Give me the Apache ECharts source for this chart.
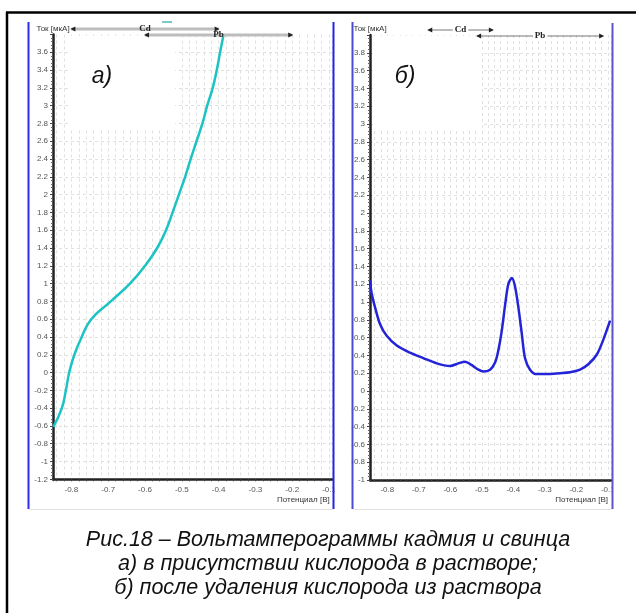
<!DOCTYPE html>
<html>
<head>
<meta charset="utf-8">
<script src="https://cdn.jsdelivr.net/npm/echarts@6/dist/echarts.min.js"></script>
<style>
html,body{margin:0;padding:0;background:#fff;}
#chart{width:636px;height:613px;}
</style>
</head>
<body>
<div id="chart"></div>
<script>
// ---- data ----
const potentialA = [-0.849, -0.826, -0.815, -0.806, -0.792, -0.772, -0.746, -0.693, -0.641, -0.600, -0.567, -0.543, -0.525, -0.508, -0.491, -0.476, -0.460, -0.444, -0.431, -0.416, -0.405, -0.396, -0.387];
const currentA   = [-0.61, -0.40, -0.20, 0.00, 0.20, 0.40, 0.60, 0.80, 1.00, 1.20, 1.40, 1.60, 1.80, 2.00, 2.20, 2.40, 2.60, 2.80, 3.00, 3.20, 3.40, 3.60, 3.79];

const potentialB = [-0.855, -0.850, -0.839, -0.823, -0.802, -0.770, -0.728, -0.686, -0.643, -0.601, -0.575, -0.553, -0.532, -0.511, -0.495, -0.474, -0.458, -0.448, -0.437, -0.426, -0.416, -0.405, -0.395, -0.384, -0.373, -0.363, -0.347, -0.326, -0.294, -0.252, -0.220, -0.188, -0.162, -0.135, -0.114, -0.093];
const currentB   = [1.24, 1.10, 0.94, 0.75, 0.62, 0.51, 0.43, 0.37, 0.31, 0.28, 0.31, 0.33, 0.29, 0.24, 0.22, 0.24, 0.32, 0.45, 0.67, 0.97, 1.20, 1.27, 1.18, 0.94, 0.64, 0.37, 0.24, 0.19, 0.19, 0.20, 0.21, 0.24, 0.30, 0.41, 0.58, 0.79];

const xRangeA = [-0.85, -0.09];
const xRangeB = [-0.855, -0.09];
const yRangeA = [-1.2, 3.8];
const yRangeB = [-1.0, 4.0];
const yStep = 0.2;

const cdRangeA = [-0.80, -0.40];
const pbRangeA = [-0.60, -0.20];
const cdRangeB = [-0.67, -0.465];
const pbRangeB = [-0.515, -0.115];

const yName = 'Ток [мкА]';
const xName = 'Потенциал [В]';
const panelLabels = ['а)', 'б)'];
const captionLines = [
  'Рис.18 – Вольтамперограммы кадмия и свинца',
  'а) в присутствии кислорода в растворе;',
  'б) после удаления кислорода из раствора'
];

// ---- chart ----
const FONT = '"Liberation Sans", Arial, sans-serif';
const chart = echarts.init(document.getElementById('chart'), null, {renderer: 'canvas'});

function zip(xs, ys) { return xs.map((x, i) => [x, ys[i]]); }

const gridLine = {color: '#e0e0e0', type: [3, 3], width: 1};

function xAxisCfg(range, gridIndex) {
  return {
    type: 'value', gridIndex,
    min: range[0], max: range[1],
    splitNumber: 38,
    name: xName, nameLocation: 'end', nameGap: -3,
    nameTextStyle: {fontSize: 8, color: '#333', fontFamily: FONT, align: 'right', verticalAlign: 'top', padding: [16, 0, 0, 0]},
    axisLine: {onZero: false, lineStyle: {color: '#222', width: 2.5}},
    axisTick: {show: true, length: 2, inside: false, lineStyle: {color: '#444', width: 1}},
    axisLabel: {
      fontSize: 8, color: '#555', fontFamily: FONT, margin: 6,
      showMinLabel: true, showMaxLabel: false,
      formatter: function (v) {
        const k = Math.round(v * 100);
        if (k % 10 !== 0) return '';
        return String(k / 100);
      }
    },
    splitLine: {show: true, showMinLine: false, lineStyle: gridLine}
  };
}
function yAxisCfg(range, gridIndex) {
  return {
    type: 'value', gridIndex,
    min: range[0], max: range[1], interval: yStep,
    name: yName, nameLocation: 'end', nameGap: 2,
    nameTextStyle: {fontSize: 8, color: '#333', fontFamily: FONT, align: 'center'},
    axisLine: {onZero: false, lineStyle: {color: '#222', width: 2.5}},
    axisTick: {show: true, length: 3, lineStyle: {color: '#444'}},
    minorTick: {show: true, splitNumber: 5, length: 2, lineStyle: {color: '#666'}},
    axisLabel: {fontSize: 8, color: '#555', fontFamily: FONT, margin: 5, showMaxLabel: false, showMinLabel: true},
    splitLine: {show: true, showMinLine: false, showMaxLine: false, lineStyle: gridLine}
  };
}

const option = {
  animation: false,
  backgroundColor: '#ffffff',
  grid: [
    {left: 53, top: 34.5, width: 279.7, height: 444.8, containLabel: false},
    {left: 370, top: 35, width: 241, height: 445, containLabel: false}
  ],
  xAxis: [xAxisCfg(xRangeA, 0), xAxisCfg(xRangeB, 1)],
  yAxis: [yAxisCfg(yRangeA, 0), yAxisCfg(yRangeB, 1)],
  series: [
    {
      type: 'line', xAxisIndex: 0, yAxisIndex: 0,
      data: zip(potentialA, currentA),
      showSymbol: false, smooth: 0.5, clip: true,
      lineStyle: {color: '#1cc3c3', width: 2.5}, z: 5
    },
    {
      type: 'line', xAxisIndex: 1, yAxisIndex: 1,
      data: zip(potentialB, currentB),
      showSymbol: false, smooth: 0.3, clip: true,
      lineStyle: {color: '#2323d8', width: 2.5}, z: 5
    }
  ]
};
chart.setOption(option);

// ---- decorations (annotation markers positioned via the axes) ----
function px(gridIndex, x) { return chart.convertToPixel({xAxisIndex: gridIndex}, x); }

function rangeMarker(gridIndex, range, y, label, thick) {
  const x1 = px(gridIndex, range[0]);
  const x2 = px(gridIndex, range[1]);
  return [
    {type: 'line', z: 20, shape: {x1: x1, y1: y, x2: x2, y2: y},
     style: {stroke: thick ? '#bdbdbd' : '#777', lineWidth: thick ? 3 : 1}},
    {type: 'polygon', z: 21, shape: {points: [[x1 - 1, y], [x1 + 4, y - 2.5], [x1 + 4, y + 2.5]]}, style: {fill: '#222'}},
    {type: 'polygon', z: 21, shape: {points: [[x2 + 1, y], [x2 - 4, y - 2.5], [x2 - 4, y + 2.5]]}, style: {fill: '#222'}},
    {type: 'text', z: 22, x: (x1 + x2) / 2, y: y,
     style: {text: label, fontSize: 9, fontWeight: 'bold', fontFamily: '"Liberation Serif", serif', fill: '#222',
             align: 'center', verticalAlign: 'middle',
             backgroundColor: thick ? null : '#fff', padding: thick ? 0 : [0, 2]}}
  ];
}

const g = [];
// white label boxes in the upper-left of each plot
g.push({type: 'rect', z: 1, shape: {x: 68, y: 36, width: 107, height: 92}, style: {fill: '#fff'}});
g.push({type: 'rect', z: 1, shape: {x: 373, y: 36, width: 109, height: 92}, style: {fill: '#fff'}});
// panel letters
g.push({type: 'text', z: 30, x: 102, y: 77, style: {text: panelLabels[0], font: 'italic 23px ' + FONT, fill: '#111', align: 'center', verticalAlign: 'middle'}});
g.push({type: 'text', z: 30, x: 405, y: 77, style: {text: panelLabels[1], font: 'italic 23px ' + FONT, fill: '#111', align: 'center', verticalAlign: 'middle'}});
// Cd / Pb ranges
g.push(...rangeMarker(0, cdRangeA, 29, 'Cd', true));
g.push(...rangeMarker(0, pbRangeA, 35, 'Pb', true));
g.push(...rangeMarker(1, cdRangeB, 30, 'Cd', false));
g.push(...rangeMarker(1, pbRangeB, 36, 'Pb', false));
// small legend swatch of panel a
g.push({type: 'line', z: 20, shape: {x1: 162, y1: 22, x2: 172, y2: 22}, style: {stroke: '#4fb8b8', lineWidth: 1.5}});
// clip label overflow at panel edges
g.push({type: 'rect', z: 40, shape: {x: 334.5, y: 482, width: 17, height: 26}, style: {fill: '#fff'}});
g.push({type: 'rect', z: 40, shape: {x: 613, y: 482, width: 23, height: 26}, style: {fill: '#fff'}});
// panel window borders
g.push({type: 'line', z: 50, shape: {x1: 28.5, y1: 22, x2: 28.5, y2: 509}, style: {stroke: '#2b2bf5', lineWidth: 2}});
g.push({type: 'line', z: 50, shape: {x1: 333.5, y1: 22, x2: 333.5, y2: 509}, style: {stroke: '#2424e6', lineWidth: 2}});
g.push({type: 'line', z: 50, shape: {x1: 352.5, y1: 22, x2: 352.5, y2: 509}, style: {stroke: '#4b4bd2', lineWidth: 2}});
g.push({type: 'line', z: 50, shape: {x1: 612.5, y1: 23, x2: 612.5, y2: 509}, style: {stroke: '#5e54c8', lineWidth: 2}});
g.push({type: 'line', z: 50, shape: {x1: 29, y1: 509.5, x2: 333, y2: 509.5}, style: {stroke: '#e2e2e2', lineWidth: 1}});
g.push({type: 'line', z: 50, shape: {x1: 353, y1: 509.5, x2: 612, y2: 509.5}, style: {stroke: '#e2e2e2', lineWidth: 1}});
// outer black frame
g.push({type: 'line', z: 60, shape: {x1: 6, y1: 12.5, x2: 636, y2: 12.5}, style: {stroke: '#000', lineWidth: 2.5}});
g.push({type: 'line', z: 60, shape: {x1: 7, y1: 12, x2: 7, y2: 613}, style: {stroke: '#000', lineWidth: 2.5}});
// caption
const capY = [540, 564, 588];
captionLines.forEach((t, i) => {
  g.push({type: 'text', z: 60, x: 328, y: capY[i],
          style: {text: t, font: 'italic 21.5px ' + FONT, fill: '#111', align: 'center', verticalAlign: 'middle'}});
});

chart.setOption({graphic: {elements: g}});
</script>
</body>
</html>
